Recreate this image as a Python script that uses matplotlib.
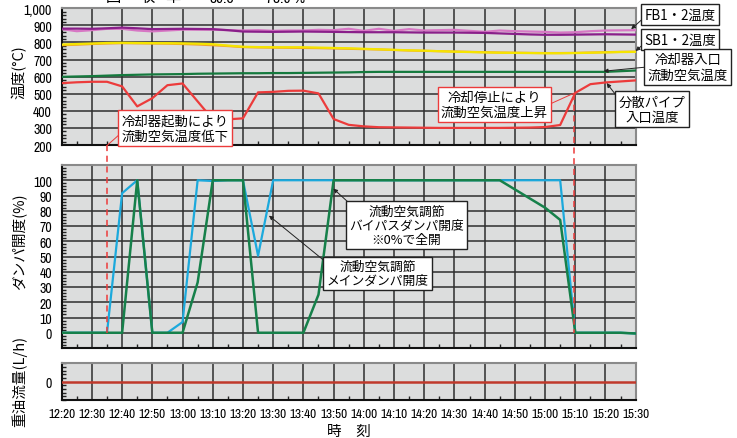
import matplotlib
matplotlib.use('Agg')
import matplotlib.pyplot as plt
import numpy as np
from matplotlib import font_manager as fm
from matplotlib.ticker import MultipleLocator, FixedLocator

# ---------------- data ----------------
# sample times in minutes after 12:20 (every 5 minutes, 12:20 ... 15:30)
t_min = np.arange(0, 191, 5)
tick_min = [0, 10, 20, 30, 40, 50, 60, 70, 80, 90, 100, 110, 120, 130, 140, 150, 160, 170, 180, 190]
tick_labels = ['12:20', '12:30', '12:40', '12:50', '13:00', '13:10', '13:20', '13:30', '13:40', '13:50',
               '14:00', '14:10', '14:20', '14:30', '14:40', '14:50', '15:00', '15:10', '15:20', '15:30']

# temperatures (deg C)
fb1 = [881, 881, 880, 883, 887, 883, 878, 879, 880, 879, 878, 872, 864, 863, 862, 863, 864, 863, 862, 861,
       860, 860, 860, 859, 858, 858, 858, 857, 856, 853, 850, 847, 845, 845, 846, 847, 848, 847, 846]
fb2 = [878, 866, 872, 880, 880, 870, 865, 870, 875, 875, 875, 872, 870, 872, 868, 870, 870, 874, 872, 880,
       868, 880, 868, 878, 870, 872, 874, 868, 862, 870, 866, 864, 862, 858, 860, 866, 870, 871, 872]
sb1 = [788, 791, 794, 797, 798, 797, 796, 796, 795, 793, 790, 782, 775, 773, 772, 772, 772, 770, 768, 766,
       763, 760, 757, 754, 752, 749, 746, 744, 742, 740, 739, 738, 737, 737, 738, 740, 742, 744, 745]
sb2 = [784, 787, 791, 794, 796, 795, 794, 793, 791, 788, 784, 779, 773, 771, 770, 769, 768, 767, 765, 763,
       761, 759, 756, 753, 751, 749, 747, 745, 743, 741, 740, 739, 738, 738, 739, 741, 743, 745, 746]
cool_in = [599, 601, 603, 606, 609, 611, 613, 614, 615, 617, 618, 619, 620, 620, 621, 621, 622, 623, 624, 625,
           627, 628, 628, 628, 628, 628, 628, 628, 628, 628, 628, 628, 628, 628, 628, 628, 628, 632, 636]
pipe_in = [562, 567, 570, 570, 543, 426, 474, 550, 560, 455, 350, 350, 356, 508, 511, 517, 518, 502, 352, 318,
           309, 304, 303, 302, 301, 300, 300, 300, 300, 300, 301, 302, 305, 317, 505, 556, 566, 572, 578]

# damper openings (%)
bypass = [0, 0, 0, 0, 91.5, 100, 0, 0, 7, 100, 99.5, 100, 100, 50.5, 100, 100, 100, 100, 100, 100,
          100, 100, 100, 100, 100, 100, 100, 100, 100, 100, 100, 100, 100, 100, 0, 0, 0, 0, -0.5]
main_d = [0, 0, 0, 0, 0, 100, 0, 0, 0, 33, 100, 100, 100, 0, 0, 0, 0, 25, 100, 100,
          100, 100, 100, 100, 100, 100, 100, 100, 100, 100, 94, 88, 82, 74, 0, 0, 0, 0, -0.5]

# heavy oil flow (L/h)
oil = [0] * 39

# event times (minutes after 12:20)
t_cool_start = 15
t_cool_stop = 169.5

# ---------------- fonts ----------------
names = sorted({f.name for f in fm.fontManager.ttflist})
narrow = [n for n in names if 'Narrow' in n or 'Condensed' in n]
num_font = narrow[0] if narrow else 'Liberation Sans'
JP = 'Noto Sans CJK JP'
plt.rcParams['font.family'] = [num_font, JP, 'DejaVu Sans']
JPF = [JP, 'DejaVu Sans']
XT_FS = 9.5 if narrow else 8.0
YT_FS = 10 if narrow else 8.6

W, H = 737, 439
fig = plt.figure(figsize=(W / 100, H / 100), dpi=100)


def rect(l, t, r, b):
    return [l / W, 1 - b / H, (r - l) / W, (b - t) / H]


def fp(x, y):
    return (x, H - y)


ax1 = fig.add_axes(rect(61.7, 9.3, 635.7, 146))
ax2 = fig.add_axes(rect(61.7, 166, 635.7, 349))
ax3 = fig.add_axes(rect(61.7, 364.3, 635.7, 401))

BG = '#dcdddd'
GRID = '#2e2e2e'
for ax in (ax1, ax2, ax3):
    ax.set_facecolor(BG)
    ax.set_xlim(0, 190)
    ax.xaxis.set_major_locator(FixedLocator(tick_min))
    ax.xaxis.set_minor_locator(MultipleLocator(5))
    ax.grid(True, which='major', color=GRID, lw=1.1)
    ax.set_axisbelow(True)
    ax.tick_params(which='major', length=0, labelsize=YT_FS, pad=7)
    ax.tick_params(which='minor', direction='in', length=3, width=1, color='#222')
    ax.tick_params(axis='x', which='minor', bottom=True, top=False)
    ax.tick_params(axis='y', which='minor', left=True, right=False)
    for s in ('left', 'bottom'):
        ax.spines[s].set_color('#111')
        ax.spines[s].set_linewidth(1.5)
    for s in ('top', 'right'):
        ax.spines[s].set_color('#8a8a8a')
        ax.spines[s].set_linewidth(1.5)
    ax.set_xticklabels([])

# top panel
ax1.set_ylim(200, 1000)
ax1.yaxis.set_minor_locator(MultipleLocator(20))
ax1.set_yticks([200, 300, 400, 500, 600, 700, 800, 900, 1000])
ax1.set_yticklabels(['200', '300', '400', '500', '600', '700', '800', '900', '1,000'])
ax1.plot(t_min, sb2, color='#f0a030', lw=1.6, zorder=3)
ax1.plot(t_min, sb1, color='#f5e400', lw=1.6, zorder=3)
ax1.plot(t_min, fb2, color='#d777c4', lw=1.6, zorder=3)
ax1.plot(t_min, fb1, color='#8a1f8a', lw=1.6, zorder=3)
ax1.plot(t_min, cool_in, color='#157a3e', lw=1.6, zorder=3)
ax1.plot(t_min, pipe_in, color='#ec3b3b', lw=1.6, zorder=3)

# middle panel
ax2.set_ylim(-10, 110)
ax2.set_yticks([-10, 0, 10, 20, 30, 40, 50, 60, 70, 80, 90, 100, 110])
ax2.set_yticklabels(['', '0', '10', '20', '30', '40', '50', '60', '70', '80', '90', '100', ''])
ax2.yaxis.set_minor_locator(MultipleLocator(2))
ax2.plot(t_min, bypass, color='#1ca9dc', lw=1.6, zorder=3)
ax2.plot(t_min, main_d, color='#16804a', lw=1.8, zorder=4)

# bottom panel
ax3.set_ylim(-1, 1)
ax3.set_yticks([0])
ax3.set_yticklabels(['0'])
ax3.yaxis.set_minor_locator(MultipleLocator(0.2))
ax3.grid(False, axis='y')
ax3.plot(t_min, oil, color='#c0392b', lw=1.8, zorder=3)
ax3.set_xticklabels(tick_labels)
ax3.tick_params(axis='x', which='major', pad=6, labelsize=XT_FS)

# event dashed lines (drawn in figure space across panels)
for tm, y0 in ((t_cool_start, 146), (t_cool_stop, 95)):
    xp = ax1.transData.transform((tm, 500))[0]
    y1 = H - ax2.transData.transform((tm, 0))[1]
    fig.add_artist(plt.Line2D([xp / W, xp / W], [1 - y0 / H, 1 - y1 / H], transform=fig.transFigure,
                              color='#ec3b3b', lw=1.1, ls=(0, (4, 3)), zorder=5))

# y labels
fig.text(19 / W, 1 - 72 / H, '温度(°C)', rotation=90, ha='center', va='center', fontsize=10.5, family=JPF)
fig.text(19 / W, 1 - 242 / H, 'ダンパ開度(%)', rotation=90, ha='center', va='center', fontsize=10.5, family=JPF)
fig.text(19 / W, 1 - 381 / H, '重油流量(L/h)', rotation=90, ha='center', va='center', fontsize=10.5, family=JPF)
fig.text(349 / W, 1 - 432 / H, '時　刻', ha='center', va='center', fontsize=10.5, family=JPF)

# partially cut header text
for x, s in ((113, '回'), (147, '収'), (173, '率')):
    fig.text(x / W, 1 - 2 / H, s, ha='center', va='baseline', fontsize=11, family=JPF)
fig.text(222 / W, 1 - 3 / H, '89.5', ha='center', va='baseline', fontsize=11)
fig.text(285 / W, 1 - 3 / H, '78.9 %', ha='center', va='baseline', fontsize=11)


def label_box(cx, cy, text, ec, fs=9.6):
    fig.text(cx / W, 1 - cy / H, text, ha='center', va='center', fontsize=fs, family=JPF,
             linespacing=1.1, multialignment='center', zorder=10,
             bbox=dict(boxstyle='square,pad=0.25', fc='white', ec=ec, lw=1.0))


def pointer(ax, target, start, color, head=True):
    ax.annotate('', xy=target, xycoords='data', xytext=fp(*start), textcoords='figure pixels',
                annotation_clip=False, zorder=9,
                arrowprops=dict(arrowstyle='-|>' if head else '-', color=color, lw=0.7,
                                mutation_scale=6, shrinkA=0, shrinkB=0))


RED = '#ec3b3b'
# top panel callouts
pointer(ax1, (t_cool_start, 197), (120, 135), RED, head=False)
label_box(175, 129, '冷却器起動により\n流動空気温度低下', RED)
pointer(ax1, (169.8, 505), (550, 105), RED, head=False)
label_box(494.5, 105.5, '冷却停止により\n流動空気温度上昇', RED)

pointer(ax1, (188.5, 878), (647, 16), '#222')
label_box(680, 15.5, 'FB1・2温度', '#222')
pointer(ax1, (190, 750), (647, 42), '#222')
label_box(680, 40.5, 'SB1・2温度', '#222')
pointer(ax1, (179.4, 632), (647, 68), '#222')
label_box(687.5, 68, '冷却器入口\n流動空気温度', '#222')
pointer(ax1, (180.4, 562), (619, 100), '#222')
label_box(652, 110, '分散パイプ\n入口温度', '#222')

# middle panel callouts
pointer(ax2, (89.9, 94.5), (348.3, 203.3), '#222')
label_box(406.5, 226, '流動空気調節\nバイパスダンパ開度\n※0%で全開', '#222', fs=9.2)
pointer(ax2, (68.6, 76.8), (328.3, 265), '#222')
label_box(377.5, 274.5, '流動空気調節\nメインダンパ開度', '#222', fs=9.2)

fig.savefig('out.png', dpi=100)
